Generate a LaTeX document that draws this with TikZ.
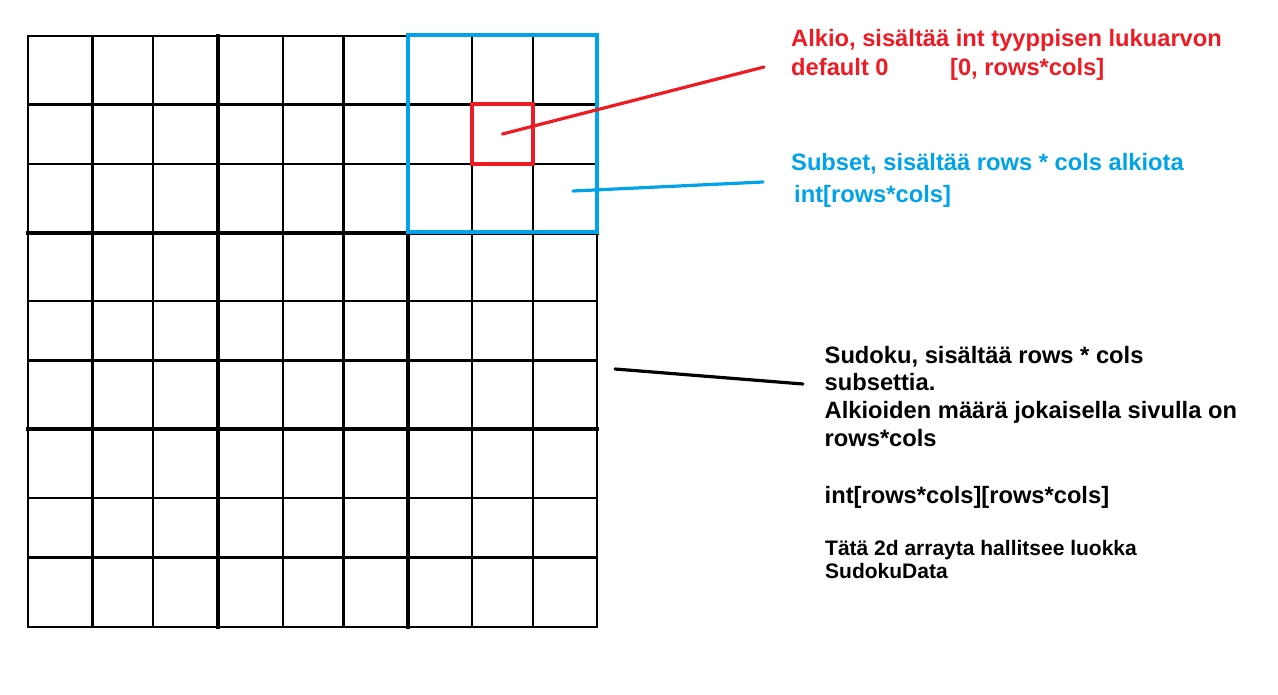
\documentclass[tikz,border=0pt]{standalone}
\usepackage{fontspec}
\setmainfont{Liberation Sans}
\definecolor{pred}{RGB}{237,28,36}
\definecolor{pblue}{RGB}{0,162,232}
\tikzset{
  gridthin/.style={draw=black, line width=2.2pt, line cap=rect},
  gridthick/.style={draw=black, line width=4pt, line cap=rect},
  subsetbox/.style={draw=pblue, line width=3.5pt, inner sep=0pt, minimum width=189pt, minimum height=197pt},
  alkiobox/.style={draw=pred, line width=3.3pt, inner sep=0pt, minimum width=61pt, minimum height=60pt},
  leader/.style={line width=3.2pt, line cap=round},
  bigtext/.style={inner sep=0pt, anchor=base west, align=left, font=\bfseries\fontsize{23.7}{27.6}\selectfont},
  smalltext/.style={inner sep=0pt, anchor=base west, align=left, font=\bfseries\fontsize{21}{23.5}\selectfont}
}
\begin{document}
\begin{tikzpicture}[x=1pt,y=-1pt]
\useasboundingbox (0,0) rectangle (1278,694);
\fill[white] (0,0) rectangle (1278,694);
% grid
\foreach \x in {28,92.5,153,283,343.5,472,533,597}
  \draw[gridthin] (\x,36) -- (\x,627);
\foreach \y in {36,104.5,164,301,360.5,498,557.5,627}
  \draw[gridthin] (28,\y) -- (597,\y);
\foreach \x in {218,408}
  \draw[gridthick] (\x,36) -- (\x,627);
\foreach \y in {233,428.5}
  \draw[gridthick] (28,\y) -- (597,\y);
% highlighted subset and cell
\node[subsetbox] (subset) at (502.5,133.5) {};
\node[alkiobox] (alkio) at (502.5,134) {};
% texts (base anchor = baseline of the last line)
\node[bigtext, text=pred, font=\bfseries\fontsize{23.7}{28.3}\selectfont] (alkiotext) at (791,75)
  {Alkio, sisältää int tyyppisen lukuarvon\\default 0\hspace{61.5pt}[0, rows*cols]};
\node[bigtext, text=pblue, font=\bfseries\fontsize{23.7}{32}\selectfont] (subsettext) at (791,202)
  {Subset, sisältää rows * cols alkiota\\\hspace{3pt}int[rows*cols]};
\node[bigtext] (sudokutext) at (824.5,446)
  {Sudoku, sisältää rows * cols\\subsettia.\\Alkioiden määrä jokaisella sivulla on\\rows*cols};
\node[bigtext] (arraytext) at (824.5,503) {int[rows*cols][rows*cols]};
\node[smalltext] (datatext) at (825,578.5) {Tätä 2d arrayta hallitsee luokka\\SudokuData};
% leader lines
\coordinate (alkioend) at (764,67);
\coordinate (subsetstart) at (573,191);
\coordinate (subsetend) at (763,182);
\coordinate (sudokustart) at (615,369);
\coordinate (sudokuend) at (803,384);
\draw[leader, pred] (alkio.center) -- (alkioend);
\draw[leader, pblue] (subsetstart) -- (subsetend);
\draw[leader, black] (sudokustart) -- (sudokuend);
\end{tikzpicture}
\end{document}
